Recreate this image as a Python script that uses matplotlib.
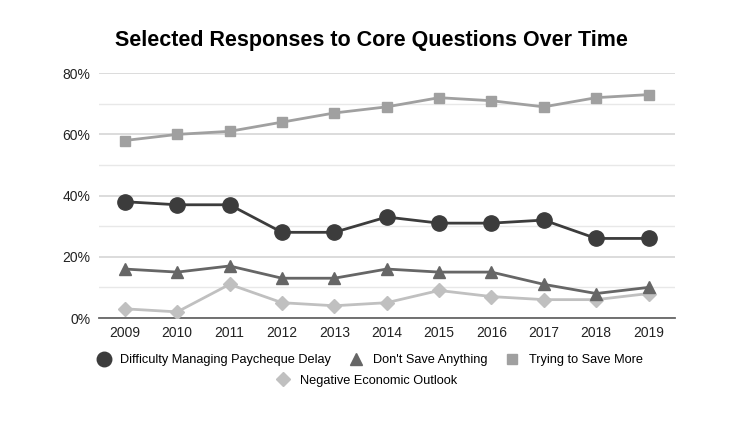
import matplotlib.pyplot as plt
from matplotlib.ticker import MultipleLocator, FuncFormatter

plt.rcParams['font.family'] = ['Liberation Sans', 'DejaVu Sans']

years = [2009, 2010, 2011, 2012, 2013, 2014, 2015, 2016, 2017, 2018, 2019]
difficulty = [38, 37, 37, 28, 28, 33, 31, 31, 32, 26, 26]
dont_save = [16, 15, 17, 13, 13, 16, 15, 15, 11, 8, 10]
trying_save = [58, 60, 61, 64, 67, 69, 72, 71, 69, 72, 73]
negative = [3, 2, 11, 5, 4, 5, 9, 7, 6, 6, 8]

fig = plt.figure(figsize=(7.31, 4.28), dpi=100)
ax = fig.add_axes([0.135, 0.257, 0.788, 0.572])

ax.plot(years, negative, color='#c0c0c0', lw=2, marker='D', ms=7, zorder=3,
        label='Negative Economic Outlook')
ax.plot(years, trying_save, color='#a0a0a0', lw=2, marker='s', ms=7.5, zorder=3,
        label='Trying to Save More')
ax.plot(years, dont_save, color='#666666', lw=2, marker='^', ms=8.5, zorder=4,
        label="Don't Save Anything")
ax.plot(years, difficulty, color='#3c3c3c', lw=2, marker='o', ms=11, zorder=5,
        label='Difficulty Managing Paycheque Delay')

ax.set_xlim(2008.5, 2019.5)
ax.set_ylim(0, 80)
ax.set_xticks(years)
ax.yaxis.set_major_locator(MultipleLocator(20))
ax.yaxis.set_minor_locator(MultipleLocator(10))
ax.yaxis.set_major_formatter(FuncFormatter(lambda v, p: f"{v:.0f}%"))
ax.grid(axis='y', which='major', color='#d9d9d9', lw=1.3)
ax.grid(axis='y', which='minor', color='#e8e8e8', lw=1)
ax.set_axisbelow(True)
for s in ['top', 'right', 'left']:
    ax.spines[s].set_visible(False)
ax.spines['bottom'].set_color('#666666')
ax.spines['bottom'].set_linewidth(1.3)
ax.tick_params(axis='both', which='both', length=0, labelsize=10, colors='#222222', pad=6)

fig.suptitle('Selected Responses to Core Questions Over Time', fontsize=15.5,
             fontweight='bold', x=0.508, y=0.93)

h, l = ax.get_legend_handles_labels()
h, l = h[::-1], l[::-1]
leg1 = fig.legend(h[:3], l[:3], loc='center', bbox_to_anchor=(0.506, 0.158), ncol=3,
                  frameon=False, fontsize=9.2, handlelength=1, handletextpad=0.8,
                  columnspacing=1.45, markerscale=0.95)
for line in leg1.get_lines():
    line.set_linestyle('')
leg2 = fig.legend(h[3:], l[3:], loc='center', bbox_to_anchor=(0.502, 0.11), ncol=1,
                  frameon=False, fontsize=9.2, handlelength=1, handletextpad=0.8,
                  markerscale=0.95)
for line in leg2.get_lines():
    line.set_linestyle('')

fig.savefig('out.png', dpi=100)
